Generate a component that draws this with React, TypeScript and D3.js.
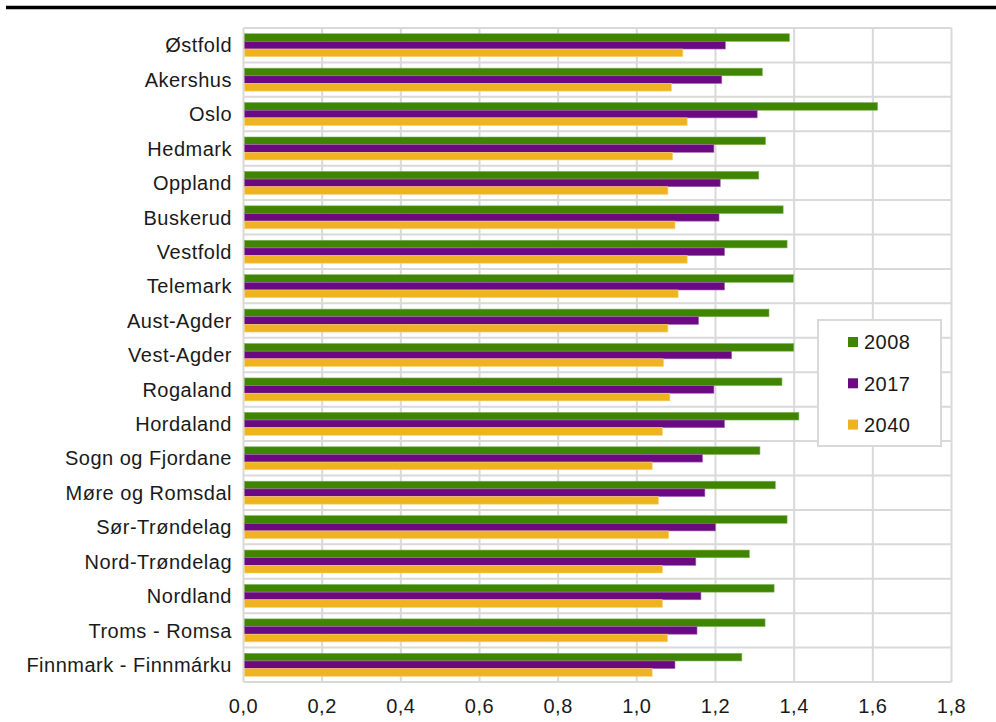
import React from "react";
import * as d3 from "d3";

const categories = [
  "Østfold", "Akershus", "Oslo", "Hedmark", "Oppland", "Buskerud", "Vestfold",
  "Telemark", "Aust-Agder", "Vest-Agder", "Rogaland", "Hordaland",
  "Sogn og Fjordane", "Møre og Romsdal", "Sør-Trøndelag", "Nord-Trøndelag",
  "Nordland", "Troms - Romsa", "Finnmark - Finnmárku",
];
const series = ["2008", "2017", "2040"];
const values2008 = [1.388, 1.319, 1.612, 1.327, 1.310, 1.372, 1.382, 1.398, 1.336, 1.399, 1.369, 1.412, 1.313, 1.352, 1.382, 1.286, 1.349, 1.326, 1.267];
const values2017 = [1.225, 1.216, 1.306, 1.196, 1.212, 1.209, 1.223, 1.223, 1.157, 1.241, 1.196, 1.223, 1.167, 1.173, 1.200, 1.150, 1.163, 1.153, 1.097];
const values2040 = [1.117, 1.088, 1.128, 1.091, 1.079, 1.097, 1.128, 1.105, 1.079, 1.068, 1.084, 1.065, 1.039, 1.055, 1.081, 1.065, 1.065, 1.078, 1.039];
const xTicks = [0, 0.2, 0.4, 0.6, 0.8, 1.0, 1.2, 1.4, 1.6, 1.8];

const colors = ["#3f8500", "#6b0a80", "#efb322"];
const strokes = ["#7fb35a", "#a565b5", "#f6d27a"];

export default function App() {
  const W = 996, H = 722;
  const left = 243.5, right = 951.5, top = 28, bottom = 682;
  const x = d3.scaleLinear().domain([0, 1.8]).range([left, right]);
  const y = d3.scaleBand<string>().domain(categories).range([top, bottom]).padding(0);
  const sub = d3.scaleBand<string>().domain(series).range([0, y.bandwidth()]).paddingInner(0).paddingOuter(0.75);
  const data = [values2008, values2017, values2040];
  const fmt = (v: number) => d3.format(".1f")(v).replace(".", ",");
  const font = "'Liberation Sans', Arial, sans-serif";
  const grid = "#d9d9d9";
  const boundaries = categories.map((c) => y(c) as number).concat([bottom]);
  const fs = 20;
  const ls = 0.5;

  return (
    <svg width={W} height={H} style={{ position: "absolute", left: 0, top: 0, background: "#fff" }} fontFamily={font}>
      <rect x={0} y={0} width={W} height={H} fill="#fff" />
      <line x1={6} x2={996} y1={7.5} y2={7.5} stroke="#000" strokeWidth={3.5} />
      {/* grid */}
      {xTicks.map((t) => (
        <line key={"v" + t} x1={x(t)} x2={x(t)} y1={top} y2={bottom} stroke={grid} strokeWidth={2} />
      ))}
      {boundaries.map((b, i) => (
        <line key={"h" + i} x1={left} x2={right} y1={b} y2={b} stroke={grid} strokeWidth={2} />
      ))}
      {/* bars */}
      {categories.map((c, i) => (
        <g key={c}>
          {series.map((s, j) => (
            <rect
              key={s}
              x={x(0) + 1}
              y={(y(c) as number) + (sub(s) as number)}
              width={x(data[j][i]) - x(0) - 1}
              height={sub.bandwidth()}
              fill={colors[j]}
              stroke={strokes[j]}
              strokeWidth={0.6}
            />
          ))}
        </g>
      ))}
      {/* category labels */}
      {categories.map((c) => (
        <text key={"l" + c} x={232} y={(y(c) as number) + y.bandwidth() / 2} dy="0.36em" textAnchor="end" fontSize={fs} letterSpacing={ls} fill="#1a1a1a">
          {c}
        </text>
      ))}
      {/* x tick labels */}
      {xTicks.map((t) => (
        <text key={"t" + t} x={x(t)} y={713} textAnchor="middle" fontSize={fs} letterSpacing={ls} fill="#1a1a1a">
          {fmt(t)}
        </text>
      ))}
      {/* legend */}
      <rect x={818} y={320} width={123} height={126} fill="#fff" stroke={grid} strokeWidth={2} />
      {series.map((s, j) => {
        const cy = 342 + j * 41.3;
        return (
          <g key={"lg" + s}>
            <rect x={848} y={cy - 5} width={10} height={10} fill={colors[j]} />
            <text x={864} y={cy} dy="0.36em" fontSize={fs} letterSpacing={ls} fill="#1a1a1a">{s}</text>
          </g>
        );
      })}
    </svg>
  );
}
